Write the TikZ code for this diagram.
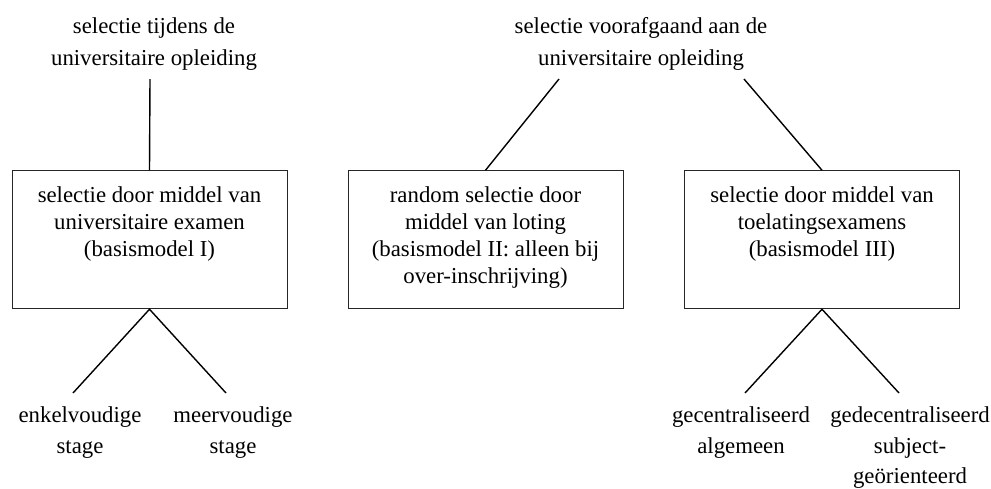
\documentclass[tikz,border=0pt]{standalone}
\usepackage{fontspec}
\setmainfont{Liberation Serif}

\begin{document}
\begin{tikzpicture}[x=0.5pt,y=-0.5pt,
  box/.style={draw=black!85, line width=0.5pt, minimum width=137.5pt, minimum height=69pt, inner sep=0pt},
  kop/.style={align=center, anchor=north, inner sep=0pt, font=\fontsize{11.4}{16}\selectfont},
  boxtekst/.style={align=center, anchor=north, inner sep=0pt, font=\fontsize{11.4}{13.5}\selectfont},
  voet/.style={align=center, anchor=north, inner sep=0pt, font=\fontsize{11.4}{15.2}\selectfont},
  lijn/.style={black, line width=0.7pt}]
  \useasboundingbox (0,0) rectangle (991,488);

  %# SELECTIE TIJDENS / VOORAFGAAND
  \node[kop] (tijdens) at (154,17.5) {selectie tijdens de\\universitaire opleiding};
  \node[kop] (vooraf) at (641,17.5) {selectie voorafgaand aan de\\universitaire opleiding};

  %# BASISMODELLEN
  \node[box] (model1) at (149.5,239.75) {};
  \node[box] (model2) at (485.5,239.75) {};
  \node[box] (model3) at (822,239.75) {};
  \node[boxtekst] (tekst1) at (149.5,186.5) {selectie door middel van\\universitaire examen\\(basismodel I)};
  \node[boxtekst] (tekst2) at (485.5,186.5) {random selectie door\\middel van loting\\(basismodel II: alleen bij\\over-inschrijving)};
  \node[boxtekst] (tekst3) at (822,186.5) {selectie door middel van\\toelatingsexamens\\(basismodel III)};

  %# VORMEN
  \node[voet] (enkel) at (80,406.5) {enkelvoudige\\stage};
  \node[voet] (meer) at (233,406.5) {meervoudige\\stage};
  \node[voet] (centraal) at (741,406.5) {gecentraliseerd\\algemeen};
  \node[voet] (decentraal) at (910,406.5) {gedecentraliseerd\\subject-\\geörienteerd};

  %# EINDPUNTEN
  \coordinate (tijdens-end) at (150,79);
  \coordinate (vooraf-links) at (559,79);
  \coordinate (vooraf-rechts) at (744,79);
  \coordinate (enkel-end) at (73,393);
  \coordinate (meer-end) at (226,393);
  \coordinate (centraal-end) at (745,393);
  \coordinate (decentraal-end) at (899,393);

  %# LIJNEN
  \draw[lijn] (tijdens-end) -- (model1.north);
  \draw[lijn] (vooraf-links) -- (model2.north);
  \draw[lijn] (vooraf-rechts) -- (model3.north);
  \draw[lijn] (enkel-end) -- (model1.south) -- (meer-end);
  \draw[lijn] (centraal-end) -- (model3.south) -- (decentraal-end);
\end{tikzpicture}
\end{document}
